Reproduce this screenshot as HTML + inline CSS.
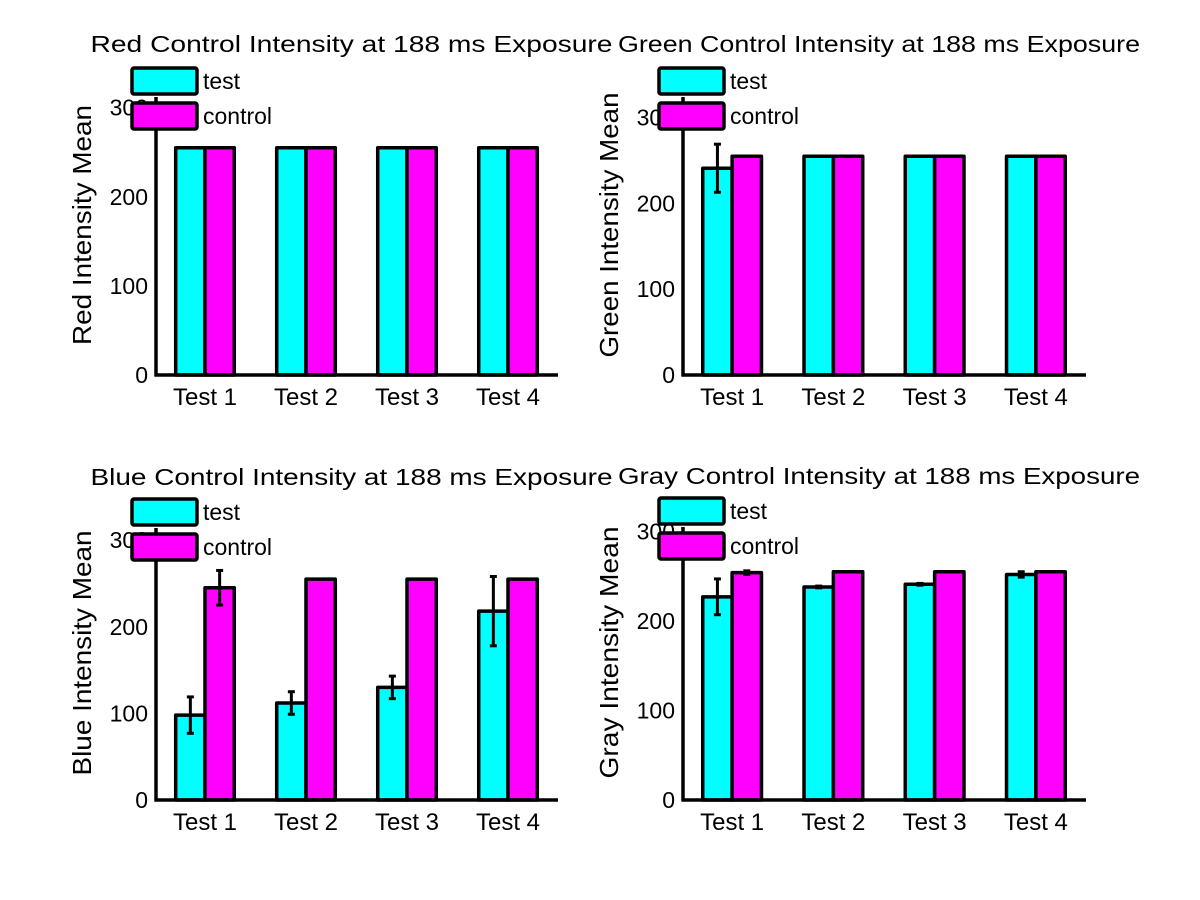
<!DOCTYPE html>
<html><head><meta charset="utf-8"><style>
html,body{margin:0;padding:0;background:#fff;}
svg{display:block;font-family:"Liberation Sans",Arial,sans-serif;}
</style></head><body>
<svg id="fig" width="1200" height="900" viewBox="0 0 1200 900" xmlns="http://www.w3.org/2000/svg"></svg>
<script>
const categories = ["Test 1","Test 2","Test 3","Test 4"];
const yTicks = [0,100,200,300];
const seriesNames = ["test","control"];
const redTest = [255,255,255,255];
const redControl = [255,255,255,255];
const redTestErr = [0,0,0,0];
const redControlErr = [0,0,0,0];
const greenTest = [241,255,255,255];
const greenControl = [255,255,255,255];
const greenTestErr = [28,0,0,0];
const greenControlErr = [0,0,0,0];
const blueTest = [98,112,130,218];
const blueControl = [245,255,255,255];
const blueTestErr = [21,13,13,40];
const blueControlErr = [20,0,0,0];
const grayTest = [227,238,241,252];
const grayControl = [254,255,255,255];
const grayTestErr = [20,1,1,3];
const grayControlErr = [2,0,0,0];
const titles = ["Red Control Intensity at 188 ms Exposure","Green Control Intensity at 188 ms Exposure","Blue Control Intensity at 188 ms Exposure","Gray Control Intensity at 188 ms Exposure"];
const yLabels = ["Red Intensity Mean","Green Intensity Mean","Blue Intensity Mean","Gray Intensity Mean"];
const yLabelLens = [240,265,245,252];

const NS = "http://www.w3.org/2000/svg";
const svg = document.getElementById('fig');
function mk(tag, attrs, parent){ const e=document.createElementNS(NS,tag); for(const k in attrs) e.setAttribute(k,attrs[k]); (parent||svg).appendChild(e); return e; }

const panels = [
 {key:"red", l:156,r:557,t:97,b:375,ymax:312,test:redTest,ctrl:redControl,te:redTestErr,ce:redControlErr},
 {key:"green", l:683,r:1085,t:97,b:375,ymax:324,test:greenTest,ctrl:greenControl,te:greenTestErr,ce:greenControlErr},
 {key:"blue", l:156,r:557,t:528,b:800,ymax:314,test:blueTest,ctrl:blueControl,te:blueTestErr,ce:blueControlErr},
 {key:"gray", l:683,r:1085,t:527,b:800,ymax:305,test:grayTest,ctrl:grayControl,te:grayTestErr,ce:grayControlErr}
];
const colors = ["#00ffff","#ff00ff"];

panels.forEach((p,pi)=>{
  const g = mk('g',{});
  
  
  const xmin = 0.515, xmax = 4.485;
  const xs = v => p.l + (v - xmin)/(xmax-xmin)*(p.r-p.l);
  const ys = v => p.b - v/p.ymax*(p.b-p.t);
  const step = xs(2)-xs(1);
  const bw = step*0.29;
  categories.forEach((c,i)=>{
    const cx = xs(i+1);
    [p.test,p.ctrl].forEach((arr,si)=>{
      const x0 = si===0 ? cx-bw : cx;
      const rect = mk('rect',{x:x0,y:ys(arr[i]),width:bw,height:ys(0)-ys(arr[i]),fill:colors[si],stroke:'#000','stroke-width':3.5,'stroke-linejoin':'round'},g);
      
      
    });
    [[p.test,p.te,cx-bw/2],[p.ctrl,p.ce,cx+bw/2]].forEach(([arr,err,ex],si)=>{
      if(err[i]>0){
        const eg = mk('g',{},g);
        
        
        const y1=ys(arr[i]+err[i]), y2=ys(arr[i]-err[i]);
        mk('line',{x1:ex,x2:ex,y1:y1,y2:y2,stroke:'#000','stroke-width':3},eg);
        mk('line',{x1:ex-3.5,x2:ex+3.5,y1:y1,y2:y1,stroke:'#000','stroke-width':3},eg);
        mk('line',{x1:ex-3.5,x2:ex+3.5,y1:y2,y2:y2,stroke:'#000','stroke-width':3},eg);
      }
    });
    const tl = mk('text',{x:cx,y:p.b+30,'font-size':24,'text-anchor':'middle',fill:'#000'},g);
    tl.textContent = c;
    
    
  });
  const ya = mk('line',{x1:p.l,x2:p.l,y1:p.t,y2:p.b+1.5,stroke:'#000','stroke-width':3.5},g);
  
  
  const xa = mk('line',{x1:p.l-1.5,x2:p.r+1,y1:p.b,y2:p.b,stroke:'#000','stroke-width':3.5},g);
  
  
  yTicks.forEach(v=>{
    const t = mk('text',{x:p.l-8,y:ys(v)+8,'font-size':23,'text-anchor':'end',fill:'#000'},g);
    t.textContent = String(v);
    
    
  });
  const ycx = p.l - 65, ycy = (p.t+p.b)/2 - 11;
  const yl = mk('text',{x:ycx,y:ycy,'font-size':26,'text-anchor':'middle',fill:'#000',textLength:yLabelLens[pi],lengthAdjust:'spacingAndGlyphs',transform:`rotate(-90 ${ycx} ${ycy})`},g);
  yl.textContent = yLabels[pi];
  
  
  const tt = mk('text',{x:(p.l+p.r)/2-5,y:p.t-45+(pi>=2?2:0),'font-size':23,'text-anchor':'middle',fill:'#000',textLength:522,lengthAdjust:'spacingAndGlyphs'},g);
  tt.textContent = titles[pi];
  
  
  const lx = p.l - 24, ly = p.t - 29;
  seriesNames.forEach((s,si)=>{
    const lg = mk('g',{},g);
    
    
    mk('rect',{x:lx,y:ly+si*35,width:65,height:26,rx:2,fill:colors[si],stroke:'#000','stroke-width':3.5},lg);
    const lt = mk('text',{x:lx+71,y:ly+si*35+21,'font-size':23,fill:'#000'},lg);
    lt.textContent = s;
  });
});
</script>
</body></html>
